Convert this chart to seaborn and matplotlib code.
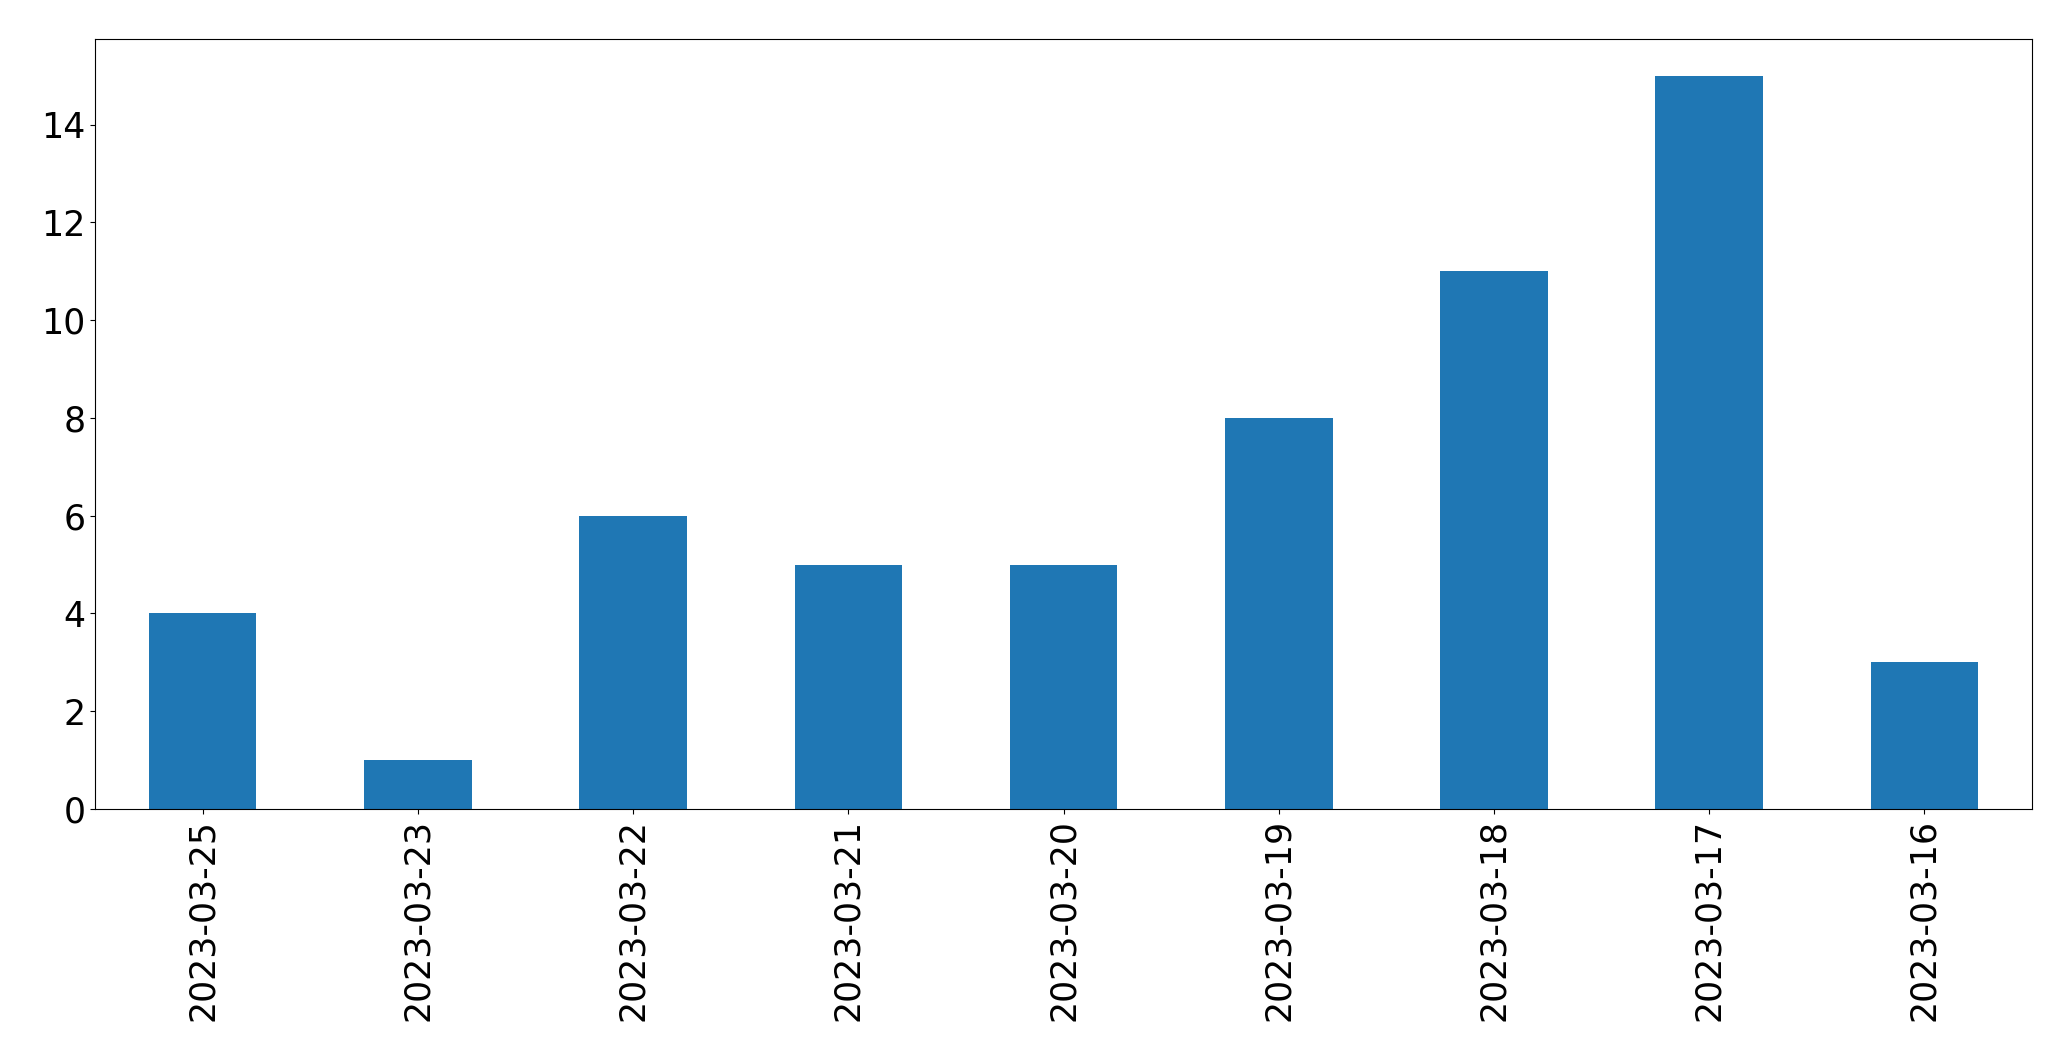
import pandas as pd
import matplotlib
matplotlib.use("Agg")
import matplotlib.pyplot as plt
import seaborn as sns

dates = ["2023-03-25", "2023-03-23", "2023-03-22", "2023-03-21", "2023-03-20",
         "2023-03-19", "2023-03-18", "2023-03-17", "2023-03-16"]
counts = [4, 1, 6, 5, 5, 8, 11, 15, 3]

df = pd.DataFrame({"date": dates, "count": counts})

fig, ax = plt.subplots(figsize=(20.71, 10.61), dpi=100)
sns.barplot(data=df, x="date", y="count", order=dates, color="#1f77b4",
            saturation=1, width=0.5, ax=ax)
ax.set_xlim(-0.5, len(dates) - 0.5)
ax.set_ylim(0, max(counts) * 1.05)
ax.set_xlabel("")
ax.set_ylabel("")
ax.tick_params(axis="both", labelsize=25)
plt.setp(ax.get_xticklabels(), rotation=90)
fig.subplots_adjust(left=0.0459, right=0.9812, bottom=0.2375, top=0.9632)
fig.savefig("out.png", dpi=100)
